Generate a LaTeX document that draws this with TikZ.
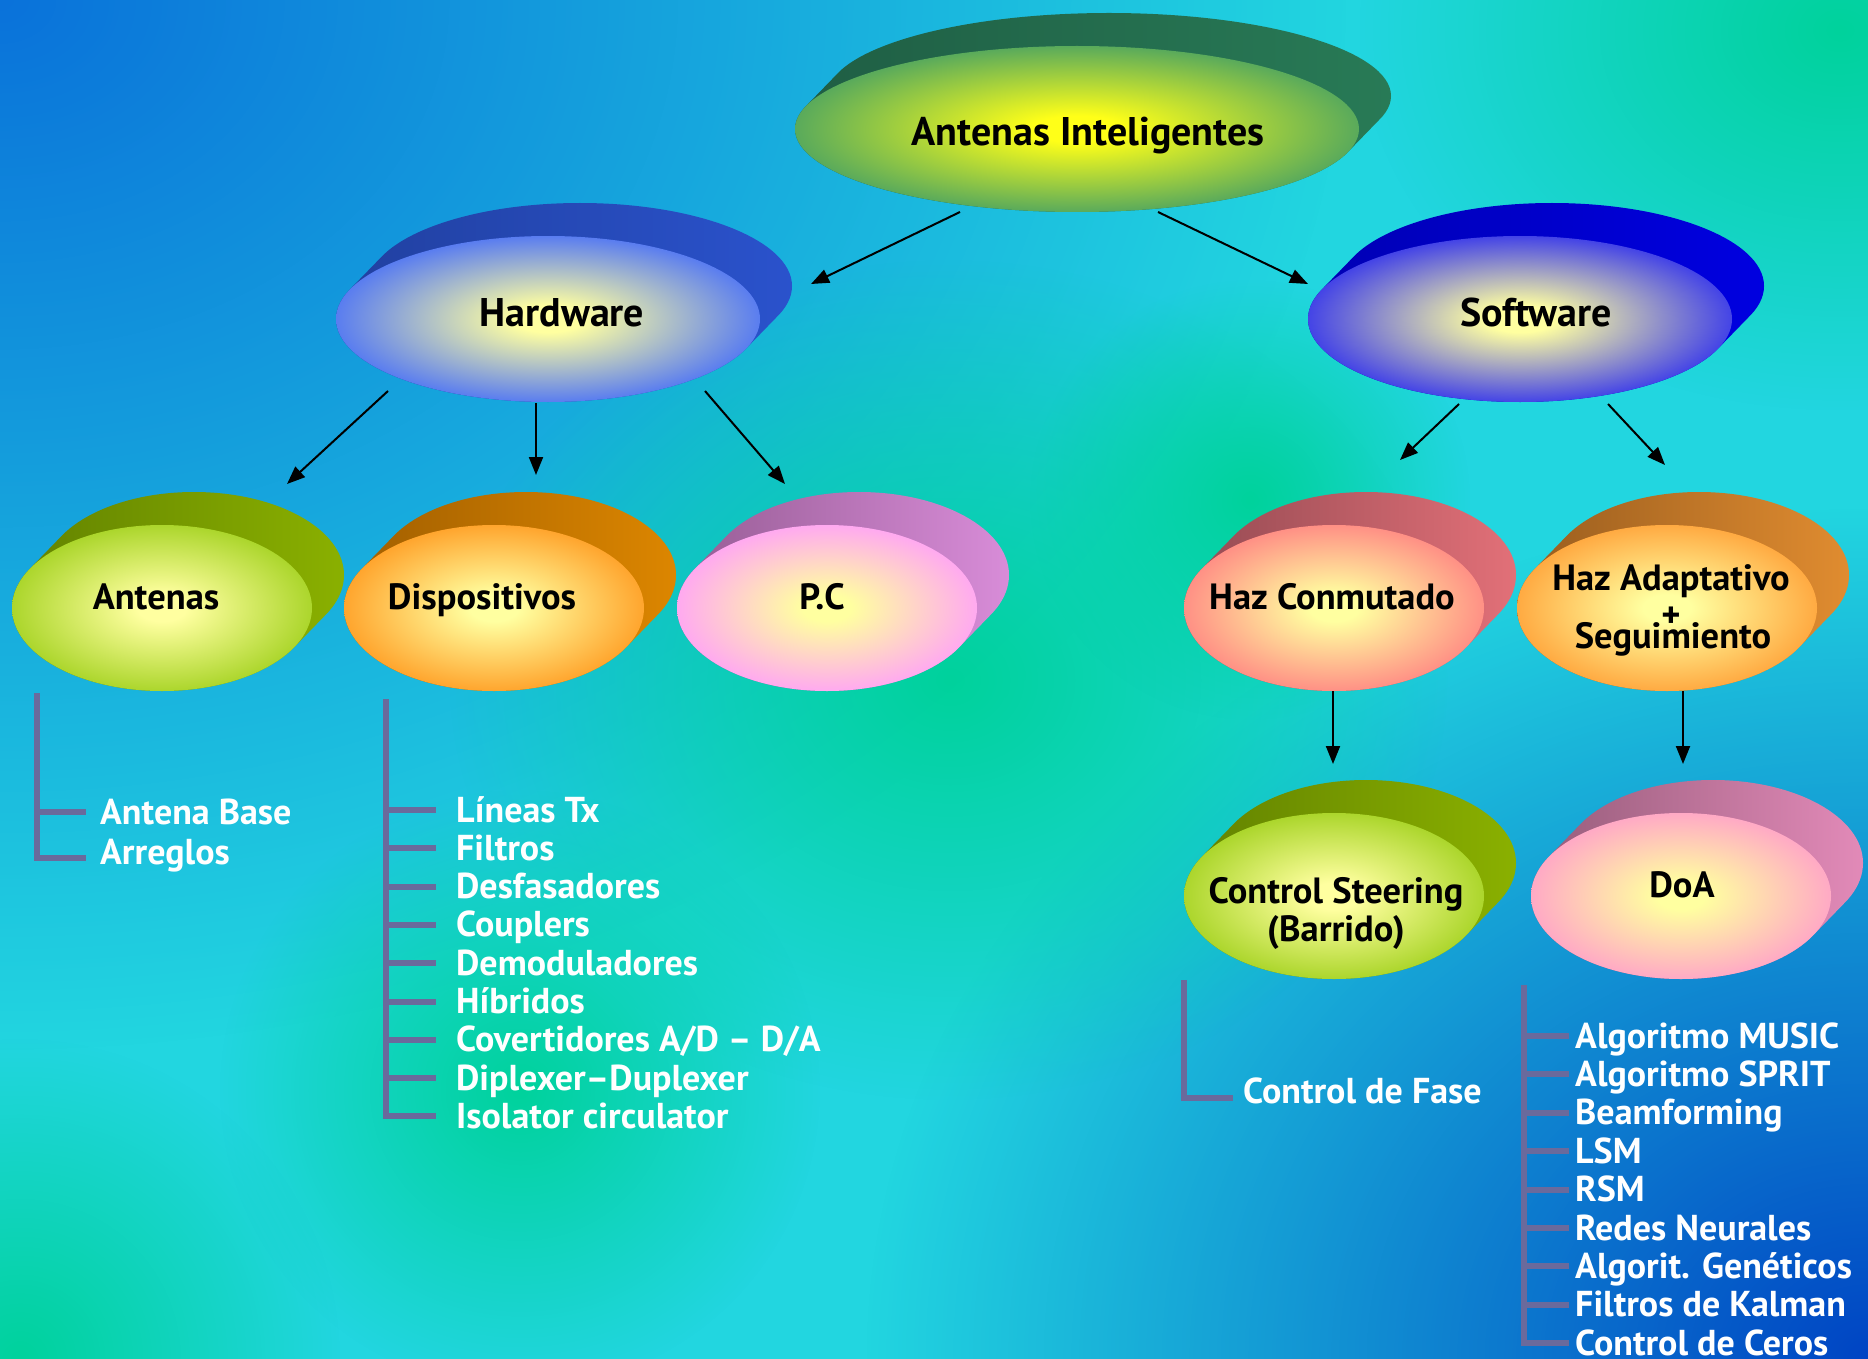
\documentclass[tikz,border=0pt]{standalone}
\usepackage{fontspec}
\setmainfont{PT Sans}
\usetikzlibrary{arrows.meta,fadings,calc}
\definecolor{bgcyan}{HTML}{22D6E0}
\definecolor{bgblue}{HTML}{0A72DA}
\definecolor{bgdeep}{HTML}{0044C4}
\definecolor{bggreen}{HTML}{00D29C}
\definecolor{listc}{HTML}{6A6A9C}
% oval colours
\definecolor{aiB1}{HTML}{1F5E44}\definecolor{aiB2}{HTML}{287A56}\definecolor{aiE}{HTML}{3A9A68}\definecolor{aiI}{HTML}{FFFF18}
\definecolor{hwB1}{HTML}{2140A0}\definecolor{hwB2}{HTML}{2A52CC}\definecolor{hwE}{HTML}{3A64FF}
\definecolor{swB1}{HTML}{0000B4}\definecolor{swB2}{HTML}{0000E0}\definecolor{swE}{HTML}{2020F4}
\definecolor{anB1}{HTML}{628200}\definecolor{anB2}{HTML}{8AB000}\definecolor{anE}{HTML}{9CCE16}
\definecolor{diB1}{HTML}{A05E00}\definecolor{diB2}{HTML}{DC8600}\definecolor{diE}{HTML}{FF9418}
\definecolor{pcB1}{HTML}{965C94}\definecolor{pcB2}{HTML}{D88CD8}\definecolor{pcE}{HTML}{FF99FF}
\definecolor{hcB1}{HTML}{944A52}\definecolor{hcB2}{HTML}{E27078}\definecolor{hcE}{HTML}{FF7B80}
\definecolor{haB1}{HTML}{985C1E}\definecolor{haB2}{HTML}{E08C30}\definecolor{haE}{HTML}{FF9A30}
\definecolor{doB1}{HTML}{965C7A}\definecolor{doB2}{HTML}{E28AB8}\definecolor{doE}{HTML}{FF99CC}
\definecolor{paleY}{HTML}{FFFFA0}
\tikzfading[name=softblob, inner color=transparent!0, outer color=transparent!100]
\colorlet{frin}{yellow}
\colorlet{frout}{blue}
\pgfdeclareradialshading[frin,frout]{frontshade}{\pgfpoint{0bp}{0bp}}{color(0bp)=(frin);color(4bp)=(frin);color(29bp)=(frout);color(50bp)=(frout)}
\newcommand\ovalshape[9]{%
  \shade[left color=#6,right color=#7]
    \foreach \t in {0,0.05,...,1.01}{ ({#2+32*\t},{#3-33*\t}) ellipse [x radius=#4, y radius=#5] };
  \colorlet{frout}{#8}\colorlet{frin}{#9}%
  \shade[shading=frontshade] (#2,#3) ellipse [x radius=#4, y radius=#5];
  \coordinate (#1) at (#2,#3);
}
\newcommand\bigf{\fontsize{40}{44}\selectfont\bfseries}
\newcommand\smallf{\fontsize{36.5}{38}\selectfont\bfseries}
\newcommand\listf{\fontsize{36}{38}\selectfont\bfseries}
\tikzset{
  arr/.style={-{Triangle[length=18pt,width=14pt]}, line width=2pt, black},
  lst/.style={listc, line width=6pt},
  lbl/.style={anchor=base, inner sep=0pt, text=black},
  itm/.style={anchor=base west, inner sep=0pt, text=white, font=\listf},
}
\begin{document}
\begin{tikzpicture}[x=1pt,y=-1pt]
\useasboundingbox (0,0) rectangle (1868,1359);
% background
\begin{scope}
\clip (0,0) rectangle (1868,1359);
\fill[bgcyan] (0,0) rectangle (1868,1359);
\fill[bgblue, path fading=softblob] (0,0) ellipse [x radius=1350, y radius=1050];
\fill[bgdeep, path fading=softblob] (1868,1359) ellipse [x radius=1000, y radius=850];
\fill[bggreen, path fading=softblob] (950,680) ellipse [x radius=500, y radius=420];
\fill[bggreen, path fading=softblob] (1250,500) circle (220);
\fill[bggreen, path fading=softblob] (1840,30) ellipse [x radius=480, y radius=380];
\fill[bggreen, path fading=softblob] (520,1090) circle (300);
\fill[bggreen, path fading=softblob] (20,1359) circle (320);
\end{scope}

% ovals: name, x, y, a, b, back dark, back light, edge, inner
\ovalshape{ai}{1077}{129}{282}{83}{aiB1}{aiB2}{aiE}{aiI}
\ovalshape{hw}{548}{319}{212}{83}{hwB1}{hwB2}{hwE}{paleY}
\ovalshape{sw}{1520}{319}{212}{83}{swB1}{swB2}{swE}{paleY}
\ovalshape{an}{162}{608}{150}{83}{anB1}{anB2}{anE}{paleY}
\ovalshape{di}{494}{608}{150}{83}{diB1}{diB2}{diE}{paleY}
\ovalshape{pc}{827}{608}{150}{83}{pcB1}{pcB2}{pcE}{paleY}
\ovalshape{hc}{1334}{608}{150}{83}{hcB1}{hcB2}{hcE}{paleY}
\ovalshape{ha}{1667}{608}{150}{83}{haB1}{haB2}{haE}{paleY}
\ovalshape{cs}{1334}{896}{150}{83}{anB1}{anB2}{anE}{paleY}
\ovalshape{doa}{1681}{896}{150}{83}{doB1}{doB2}{doE}{paleY}

% labels
\node[lbl, font=\bigf] (ai-t) at (1088,146) {Antenas Inteligentes};
\node[lbl, font=\bigf] (hw-t) at (562,326) {Hardware};
\node[lbl, font=\bigf] (sw-t) at (1536,326) {Software};
\node[lbl, font=\smallf] (an-t) at (156,609) {Antenas};
\node[lbl, font=\smallf] (di-t) at (482,609) {Dispositivos};
\node[lbl, font=\smallf] (pc-t) at (822,609) {P.C};
\node[lbl, font=\smallf] (hc-t) at (1332,609) {Haz Conmutado};
\node[lbl, font=\smallf] (ha-t1) at (1671,590) {Haz Adaptativo};
\node[lbl, font=\smallf] (ha-t2) at (1671,627) {+};
\node[lbl, font=\smallf] (ha-t3) at (1673,648) {Seguimiento};
\node[lbl, font=\smallf] (cs-t1) at (1336,903) {Control Steering};
\node[lbl, font=\smallf] (cs-t2) at (1336,941) {(Barrido)};
\node[lbl, font=\smallf] (doa-t) at (1682,897) {DoA};

% arrow end points
\coordinate (ai-o1) at ($(ai)+(-117,83)$);
\coordinate (hw-i)  at ($(hw)+(263,-35)$);
\coordinate (ai-o2) at ($(ai)+(81,83)$);
\coordinate (sw-i)  at ($(sw)+(-212,-35)$);
\coordinate (hw-o1) at ($(hw)+(-160,72)$);
\coordinate (an-i)  at ($(an)+(125,-124)$);
\coordinate (hw-o2) at ($(hw)+(-12,84)$);
\coordinate (di-i)  at ($(di)+(42,-133)$);
\coordinate (hw-o3) at ($(hw)+(157,72)$);
\coordinate (pc-i)  at ($(pc)+(-42,-124)$);
\coordinate (sw-o1) at ($(sw)+(-61,85)$);
\coordinate (hc-i)  at ($(hc)+(66,-148)$);
\coordinate (sw-o2) at ($(sw)+(88,85)$);
\coordinate (ha-i)  at ($(ha)+(-2,-143)$);
\coordinate (hc-o)  at ($(hc)+(-1,83)$);
\coordinate (cs-i)  at ($(cs)+(-1,-132)$);
\coordinate (ha-o)  at ($(ha)+(16,83)$);
\coordinate (doa-i) at ($(doa)+(2,-132)$);

\draw[arr] (ai-o1) -- (hw-i);
\draw[arr] (ai-o2) -- (sw-i);
\draw[arr] (hw-o1) -- (an-i);
\draw[arr] (hw-o2) -- (di-i);
\draw[arr] (hw-o3) -- (pc-i);
\draw[arr] (sw-o1) -- (hc-i);
\draw[arr] (sw-o2) -- (ha-i);
\draw[arr] (hc-o) -- (cs-i);
\draw[arr] (ha-o) -- (doa-i);

% Antenas list
\node[itm] (an-l0) at (100,824) {Antena Base};
\node[itm] (an-l1) at (100,864) {Arreglos};
\draw[lst] (37,693) -- (37,858) -- (86,858);
\draw[lst] (37,812) -- (86,812);

% Dispositivos list
\foreach \txt [count=\i from 0] in {Líneas Tx,Filtros,Desfasadores,Couplers,Demoduladores,Híbridos,Covertidores A/D – D/A,Diplexer–Duplexer,Isolator circulator}{
  \node[itm] (di-l\i) at (456,{822+38.3*\i}) {\txt};
  \draw[lst] (386,{810+38.3*\i}) -- ++(50,0);
}
\draw[lst] (386,699) -- (386,{810+38.3*8+3});

% Control Steering list
\node[itm] (cs-l0) at (1243,1103) {Control de Fase};
\draw[lst] (1184,980) -- (1184,1098) -- (1233,1098);

% DoA list
\foreach \txt [count=\i from 0] in {Algoritmo MUSIC,Algoritmo SPRIT,Beamforming,LSM,RSM,Redes Neurales,Algorit. Genéticos,Filtros de Kalman,Control de Ceros}{
  \node[itm] (doa-l\i) at (1575,{1048+38.4*\i}) {\txt};
  \draw[lst] (1524,{1036+38.4*\i}) -- ++(45,0);
}
\draw[lst] (1524,985) -- (1524,{1036+38.4*8+3});
\end{tikzpicture}
\end{document}
